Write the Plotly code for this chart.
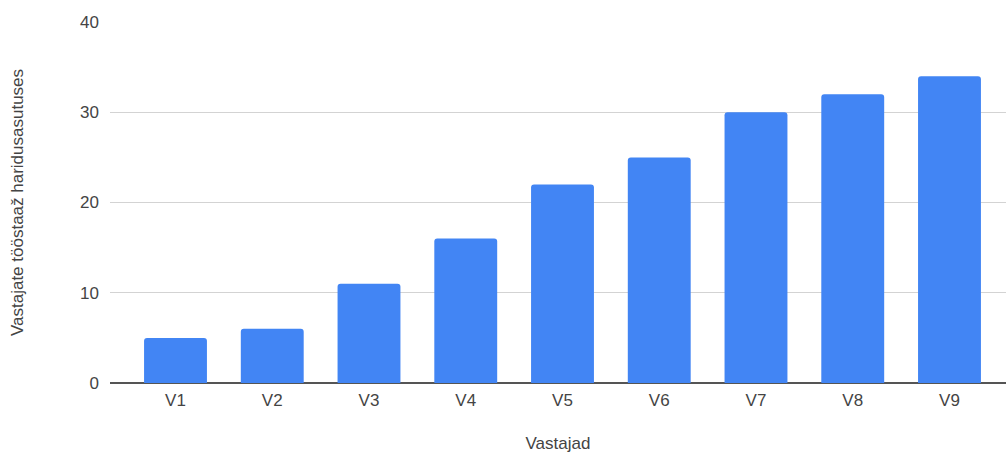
import plotly.graph_objects as go

categories = ["V1", "V2", "V3", "V4", "V5", "V6", "V7", "V8", "V9"]
values = [5, 6, 11, 16, 22, 25, 30, 32, 34]
y_ticks = [0, 10, 20, 30, 40]

font_family = "Liberation Sans, Arial, sans-serif"
text_color = "#444444"

fig = go.Figure(
    go.Bar(
        x=categories,
        y=values,
        marker=dict(color="#4285F4", line=dict(width=0)),
    )
)

fig.update_layout(
    width=1006,
    height=453,
    margin=dict(l=110, r=0, t=22, b=70),
    paper_bgcolor="white",
    plot_bgcolor="white",
    bargap=0.35,
    barcornerradius=3,
    showlegend=False,
    font=dict(family=font_family, size=17, color=text_color),
)

fig.update_xaxes(
    range=[-0.677, 8.584],
    showgrid=False,
    showline=False,
    ticks="",
    ticklabelstandoff=5,
    tickfont=dict(size=17, color=text_color),
    title=dict(text="Vastajad", font=dict(size=17, color=text_color), standoff=30),
    automargin=False,
)

fig.update_yaxes(
    range=[0, 40],
    tickvals=y_ticks,
    showgrid=True,
    gridcolor="#d3d3d3",
    gridwidth=1,
    zeroline=True,
    zerolinecolor="#555555",
    zerolinewidth=1.5,
    showline=False,
    ticks="",
    ticklabelstandoff=10,
    tickfont=dict(size=17, color=text_color),
    title=dict(text="Vastajate tööstaaž haridusasutuses", font=dict(size=17, color=text_color), standoff=52),
    automargin=False,
)

fig.write_html("out.html")
